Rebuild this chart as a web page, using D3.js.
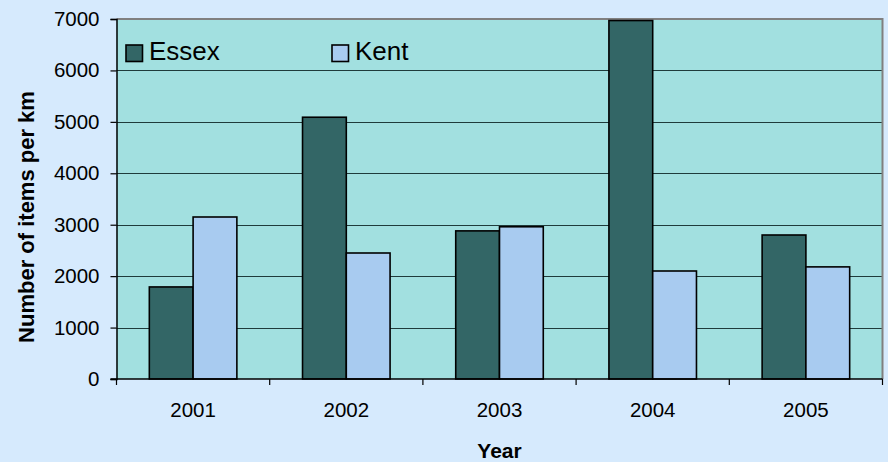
<!DOCTYPE html>
<html>
<head>
<meta charset="utf-8">
<script src="https://cdn.jsdelivr.net/npm/d3@7"></script>
<style>
  html, body { margin: 0; padding: 0; background: #D6EAFD; }
  svg { display: block; }
  text { font-family: Arial, "Liberation Sans", sans-serif; fill: #000; }
</style>
</head>
<body>
<svg id="chart" width="888" height="462"></svg>
<script>
// Litter survey: items per km by year
const years = ["2001", "2002", "2003", "2004", "2005"];
const seriesNames = ["Essex", "Kent"];
const essex = [1790, 5090, 2880, 6970, 2800];
const kent = [3150, 2450, 2960, 2100, 2180];
const yTicks = [0, 1000, 2000, 3000, 4000, 5000, 6000, 7000];
const colors = { Essex: "#336666", Kent: "#A8CBF0" };

const W = 888, H = 462;
const m = { left: 116.5, right: 5.5, top: 19, bottom: 83 };
const svg = d3.select("#chart");

const x = d3.scaleBand().domain(years)
  .range([m.left, W - m.right]).paddingInner(0).paddingOuter(0);
const y = d3.scaleLinear().domain([0, 7000]).range([H - m.bottom, m.top]);

// Bars take 2 of 3.5 units of each band (150% gap width)
const barW = x.bandwidth() / 3.5;
const inner = d3.scaleBand().domain(seriesNames)
  .range([0.75 * barW, 2.75 * barW]);

const rows = years.map((yr, i) => ({ year: yr, Essex: essex[i], Kent: kent[i] }));

// Plot background
svg.append("rect")
  .attr("x", m.left).attr("y", m.top)
  .attr("width", W - m.left - m.right).attr("height", H - m.top - m.bottom)
  .attr("fill", "#A2E0E0");

// Gridlines
svg.append("g").selectAll("line")
  .data(yTicks.filter(d => d > 0 && d < 7000))
  .join("line")
  .attr("x1", m.left).attr("x2", W - m.right)
  .attr("y1", d => Math.round(y(d)) + 0.5).attr("y2", d => Math.round(y(d)) + 0.5)
  .attr("stroke", "#1f3b3b").attr("stroke-width", 1.2);

// Plot border (top and right)
svg.append("path")
  .attr("d", `M${m.left},${m.top} H${W - m.right} V${H - m.bottom}`)
  .attr("fill", "none").attr("stroke", "#808080").attr("stroke-width", 2);

// Bars
const groups = svg.append("g").selectAll("g")
  .data(rows).join("g")
  .attr("transform", d => `translate(${x(d.year)},0)`);

groups.selectAll("rect")
  .data(d => seriesNames.map(s => ({ s, v: d[s] })))
  .join("rect")
  .attr("x", d => inner(d.s))
  .attr("width", inner.bandwidth())
  .attr("y", d => y(d.v))
  .attr("height", d => y(0) - y(d.v))
  .attr("fill", d => colors[d.s])
  .attr("stroke", "#000").attr("stroke-width", 1.6);

// Y axis
const yAxis = svg.append("g")
  .attr("transform", `translate(${m.left},0)`)
  .call(d3.axisLeft(y).tickValues(yTicks).tickSize(6).tickPadding(11).tickFormat(d3.format("d")));
yAxis.select(".domain").attr("stroke", "#000").attr("stroke-width", 1.5);
yAxis.selectAll(".tick line").attr("stroke", "#000").attr("stroke-width", 1.2);
yAxis.selectAll(".tick text").attr("font-size", 20.5).attr("fill", "#000")
  .attr("font-family", "Arial, 'Liberation Sans', sans-serif");

// X axis with ticks on band boundaries
const xAxis = svg.append("g")
  .attr("transform", `translate(0,${y(0)})`);
xAxis.append("line")
  .attr("x1", m.left - 6).attr("x2", W - m.right)
  .attr("stroke", "#000").attr("stroke-width", 1.5);
const bounds = years.map(d => x(d)).concat([x(years[years.length - 1]) + x.bandwidth()]);
xAxis.selectAll(".bt").data(bounds).join("line")
  .attr("x1", d => d).attr("x2", d => d)
  .attr("y1", 0).attr("y2", 6)
  .attr("stroke", "#000").attr("stroke-width", 1.2);
xAxis.selectAll(".lbl").data(years).join("text")
  .attr("x", d => x(d) + x.bandwidth() / 2)
  .attr("y", 38)
  .attr("text-anchor", "middle")
  .attr("font-size", 20.5)
  .text(d => d);

// Axis titles
svg.append("text")
  .attr("x", (m.left + W - m.right) / 2).attr("y", 458)
  .attr("text-anchor", "middle").attr("font-size", 21).attr("font-weight", "bold")
  .text("Year");
svg.append("text")
  .attr("transform", `translate(33.5,${217}) rotate(-90)`)
  .attr("text-anchor", "middle").attr("font-size", 22).attr("font-weight", "bold")
  .text("Number of items per km");

// Legend
const legendPos = [{ s: "Essex", x: 126, y: 45 }, { s: "Kent", x: 332, y: 45 }];
const lg = svg.append("g").selectAll("g").data(legendPos).join("g")
  .attr("transform", d => `translate(${d.x},${d.y})`);
lg.append("rect")
  .attr("width", 16.5).attr("height", 16.5)
  .attr("fill", d => colors[d.s]).attr("stroke", "#000").attr("stroke-width", 1.6);
lg.append("text")
  .attr("x", 23).attr("y", 15)
  .attr("font-size", 26)
  .text(d => d.s);
</script>
</body>
</html>
